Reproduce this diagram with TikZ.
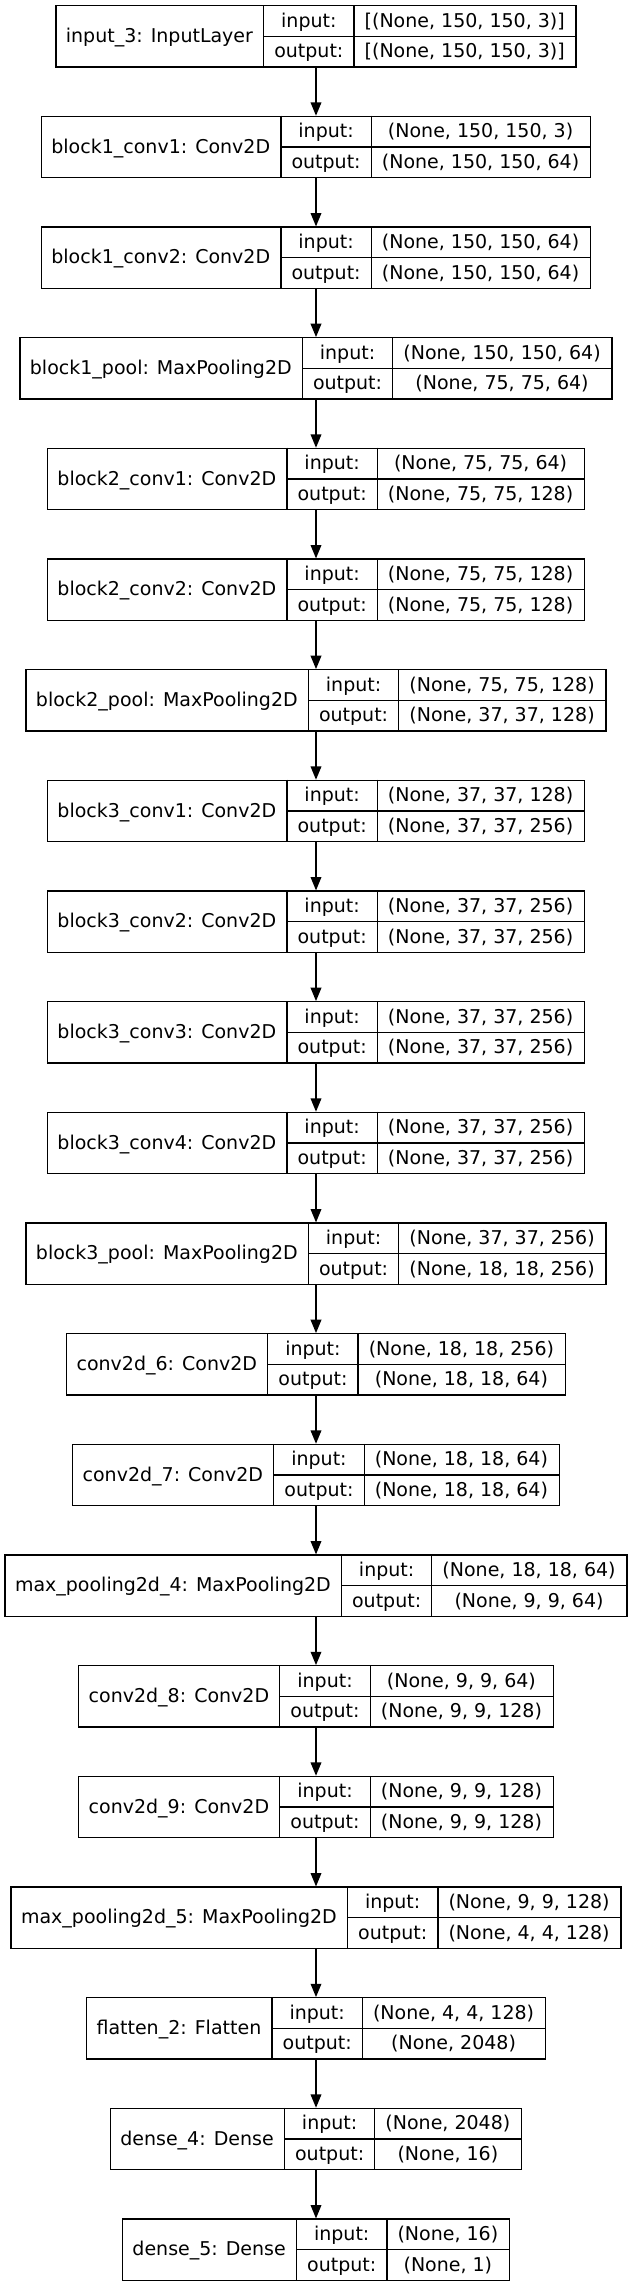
\documentclass[tikz,border=0pt]{standalone}
\usepackage{fontspec}
\setmainfont{DejaVu Sans}
\usetikzlibrary{arrows.meta, calc}

\newcommand\layerfont{\fontsize{14.25pt}{17pt}\selectfont}
\newdimen\labw
\newdimen\iow
\newdimen\inw
\newdimen\outw
\newcommand\layerlist{
  {input\_3: InputLayer}/{[(None, 150, 150, 3)]}/{[(None, 150, 150, 3)]},
  {block1\_conv1: Conv2D}/{(None, 150, 150, 3)}/{(None, 150, 150, 64)},
  {block1\_conv2: Conv2D}/{(None, 150, 150, 64)}/{(None, 150, 150, 64)},
  {block1\_pool: MaxPooling2D}/{(None, 150, 150, 64)}/{(None, 75, 75, 64)},
  {block2\_conv1: Conv2D}/{(None, 75, 75, 64)}/{(None, 75, 75, 128)},
  {block2\_conv2: Conv2D}/{(None, 75, 75, 128)}/{(None, 75, 75, 128)},
  {block2\_pool: MaxPooling2D}/{(None, 75, 75, 128)}/{(None, 37, 37, 128)},
  {block3\_conv1: Conv2D}/{(None, 37, 37, 128)}/{(None, 37, 37, 256)},
  {block3\_conv2: Conv2D}/{(None, 37, 37, 256)}/{(None, 37, 37, 256)},
  {block3\_conv3: Conv2D}/{(None, 37, 37, 256)}/{(None, 37, 37, 256)},
  {block3\_conv4: Conv2D}/{(None, 37, 37, 256)}/{(None, 37, 37, 256)},
  {block3\_pool: MaxPooling2D}/{(None, 37, 37, 256)}/{(None, 18, 18, 256)},
  {conv2d\_6: Conv2D}/{(None, 18, 18, 256)}/{(None, 18, 18, 64)},
  {conv2d\_7: Conv2D}/{(None, 18, 18, 64)}/{(None, 18, 18, 64)},
  {max\_pooling2d\_4: MaxPooling2D}/{(None, 18, 18, 64)}/{(None, 9, 9, 64)},
  {conv2d\_8: Conv2D}/{(None, 9, 9, 64)}/{(None, 9, 9, 128)},
  {conv2d\_9: Conv2D}/{(None, 9, 9, 128)}/{(None, 9, 9, 128)},
  {max\_pooling2d\_5: MaxPooling2D}/{(None, 9, 9, 128)}/{(None, 4, 4, 128)},
  {flatten\_2: Flatten}/{(None, 4, 4, 128)}/{(None, 2048)},
  {dense\_4: Dense}/{(None, 2048)}/{(None, 16)},
  {dense\_5: Dense}/{(None, 16)}/{(None, 1)}}

\begin{document}
% column widths, measured outside the picture
\foreach \lab/\sin/\sout [count=\k from 0] in \layerlist {%
  \settowidth{\labw}{\layerfont\lab}%
  \settowidth{\iow}{\layerfont output:}%
  \settowidth{\inw}{\layerfont\sin}%
  \settowidth{\outw}{\layerfont\sout}%
  \pgfmathsetmacro\ca{\the\labw+16pt}%
  \pgfmathsetmacro\cb{\the\iow+16pt}%
  \pgfmathsetmacro\cc{max(\the\inw,\the\outw)+16pt}%
  \expandafter\xdef\csname colA\k\endcsname{\ca}%
  \expandafter\xdef\csname colB\k\endcsname{\cb}%
  \expandafter\xdef\csname colC\k\endcsname{\cc}%
}%
\begin{tikzpicture}[x=1pt, y=-1pt]

\tikzset{layer/.style = {draw, line width=1pt, minimum height=46pt, inner sep=0pt}}
\tikzset{sep/.style = {line width=1pt}}
\tikzset{txt/.style = {inner sep=0pt, font=\layerfont, text height=12.5pt, text depth=3.5pt}}
\tikzset{edge/.style = {-{Triangle[length=10pt, width=8pt]}, line width=1pt}}
\useasboundingbox (0,0) rectangle (474,1715.25);

%layers
\foreach \lab/\sin/\sout [count=\k from 0] in \layerlist {
  \edef\ca{\csname colA\k\endcsname}
  \edef\cb{\csname colB\k\endcsname}
  \edef\cc{\csname colC\k\endcsname}
  \pgfmathsetmacro\w{\ca+\cb+\cc}
  \pgfmathsetmacro\y{4.3+83*\k+23}
  \node[layer, minimum width=\w pt] (L\k) at (237,\y) {};
  % cell borders
  \draw[sep] ($(L\k.north west)+(\ca,0)$) -- ($(L\k.south west)+(\ca,0)$);
  \draw[sep] ($(L\k.north west)+(\ca+\cb,0)$) -- ($(L\k.south west)+(\ca+\cb,0)$);
  \draw[sep] ($(L\k.west)+(\ca,0)$) -- (L\k.east);
  % texts
  \node[txt] (L\k-name) at ($(L\k.west)+(\ca/2,0)$) {\lab};
  \node[txt] (L\k-in) at ($(L\k.west)+(\ca+\cb/2,-11.5)$) {input:};
  \node[txt] (L\k-out) at ($(L\k.west)+(\ca+\cb/2,11.5)$) {output:};
  \node[txt] (L\k-sin) at ($(L\k.west)+(\ca+\cb+\cc/2,-11.5)$) {\sin};
  \node[txt] (L\k-sout) at ($(L\k.west)+(\ca+\cb+\cc/2,11.5)$) {\sout};
}

%edges
\foreach \k [count=\j from 1] in {0,...,19}
  \draw[edge] (L\k.south) -- (L\j.north);

\end{tikzpicture}
\end{document}
